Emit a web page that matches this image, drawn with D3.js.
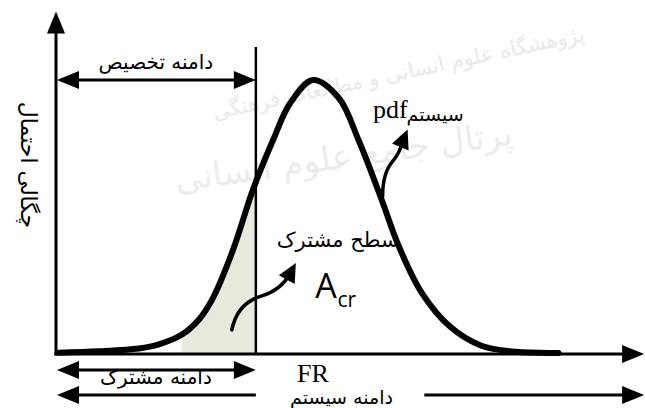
<!DOCTYPE html>
<html>
<head>
<meta charset="utf-8">
<script src="https://cdn.jsdelivr.net/npm/d3@7"></script>
<style>
body { margin: 0; background: #fff; }
</style>
</head>
<body>
<script>
// FR position (arbitrary units) and relative pdf
var frValues  = [0.05, 0.75, 1.45, 1.8, 2.2, 2.5, 2.75, 3.1, 3.45, 3.8, 4.1, 4.5, 4.95, 5.3, 5.7, 6.0, 6.4, 6.9, 7.45, 8.05, 8.8];
var pdfValues = [0.005, 0.01, 0.02, 0.035, 0.07, 0.125, 0.205, 0.38, 0.6, 0.78, 0.915, 1.0, 0.935, 0.78, 0.565, 0.395, 0.225, 0.1, 0.03, 0.008, 0.004];

var allocLimit = 3.5;   // end of the allocation range (vertical line)
var shadeStart = 2.2;   // where the shared area shading begins

var yLabel = "چگالی احتمال";
var allocLabel = "دامنه تخصیص";
var sharedRangeLabel = "دامنه مشترک";
var systemRangeLabel = "دامنه سیستم";
var sharedAreaLabel = "سطح مشترک";
var pdfLabel = "pdf";
var pdfSubLabel = "سیستم";
var xLabel = "FR";
var watermark = ["پژوهشگاه علوم انسانی و مطالعات فرهنگی", "پرتال جامع علوم انسانی"];

var width = 645, height = 408;
var persian = "'DejaVu Sans', sans-serif";

var data = frValues.map(function(d, i) { return {fr: d, p: pdfValues[i]}; });

var x = d3.scaleLinear().domain([0, 10]).range([56, 627]);
var y = d3.scaleLinear().domain([0, 1]).range([354, 80]);

var svg = d3.select("body").append("svg")
    .attr("width", width)
    .attr("height", height);

// faint watermark behind everything
svg.append("text")
    .attr("transform", "translate(400,80) rotate(-12)")
    .attr("text-anchor", "middle")
    .attr("font-family", persian)
    .attr("font-size", 21)
    .attr("fill", "#e9e9e9")
    .text(watermark[0]);
svg.append("text")
    .attr("transform", "translate(345,168) rotate(-8)")
    .attr("text-anchor", "middle")
    .attr("font-family", persian)
    .attr("font-size", 34)
    .attr("fill", "#ececec")
    .text(watermark[1]);

function head(tx, ty, dx, dy, len, half) {
    var n = Math.sqrt(dx * dx + dy * dy);
    dx /= n; dy /= n;
    var bx = tx - dx * len, by = ty - dy * len;
    svg.append("path")
        .attr("d", "M" + tx + "," + ty +
            "L" + (bx - dy * half) + "," + (by + dx * half) +
            "L" + (bx + dy * half) + "," + (by - dx * half) + "Z")
        .attr("fill", "#000");
}

// shaded shared area, clipped to the area under the curve
var area = d3.area()
    .x(function(d) { return x(d.fr); })
    .y0(y(0))
    .y1(function(d) { return y(d.p); })
    .curve(d3.curveCatmullRom);

svg.append("clipPath").attr("id", "under")
    .append("path").attr("d", area(data));

svg.append("rect")
    .attr("clip-path", "url(#under)")
    .attr("x", x(shadeStart))
    .attr("y", y(1.1))
    .attr("width", x(allocLimit) - x(shadeStart))
    .attr("height", y(0) - y(1.1))
    .attr("fill", "#e8e9dc");

// vertical limit of the allocation range
svg.append("line")
    .attr("x1", x(allocLimit)).attr("x2", x(allocLimit))
    .attr("y1", y(1.12)).attr("y2", y(0))
    .attr("stroke", "#000").attr("stroke-width", 2.5);

// axes
svg.append("line")
    .attr("x1", x(0)).attr("x2", x(0))
    .attr("y1", y(0) + 1.5).attr("y2", y(1.2))
    .attr("stroke", "#000").attr("stroke-width", 3);
head(x(0), y(1.25), 0, -1, 22, 9);

svg.append("line")
    .attr("x1", x(0) - 1.5).attr("x2", x(10))
    .attr("y1", y(0)).attr("y2", y(0))
    .attr("stroke", "#000").attr("stroke-width", 3);
head(x(10.3), y(0), 1, 0, 22, 9);

// pdf curve
var line = d3.line()
    .x(function(d) { return x(d.fr); })
    .y(function(d) { return y(d.p); })
    .curve(d3.curveCatmullRom);

svg.append("path")
    .attr("d", line(data))
    .attr("fill", "none")
    .attr("stroke", "#000")
    .attr("stroke-width", 6)
    .attr("stroke-linecap", "round");

// double arrows for ranges
function range(x1, x2, yy, leftHead, rightHead) {
    svg.append("line")
        .attr("x1", x1 + (leftHead ? 10 : 0)).attr("x2", x2 - (rightHead ? 10 : 0))
        .attr("y1", yy).attr("y2", yy)
        .attr("stroke", "#000").attr("stroke-width", 3);
    if (leftHead) head(x1, yy, -1, 0, 22, 9);
    if (rightHead) head(x2, yy, 1, 0, 22, 9);
}

range(x(0) + 1, x(allocLimit), y(1.0), true, true);
range(x(0) + 1, x(allocLimit), y(0) + 16, true, true);
range(x(0) + 1, x(allocLimit), y(0) + 41, true, false);
range(x(6.45), x(10.3), y(0) + 41, false, true);

// texts
function label(txt, tx, ty, size, family, anchor) {
    return svg.append("text")
        .attr("x", tx).attr("y", ty)
        .attr("text-anchor", anchor || "middle")
        .attr("font-family", family || persian)
        .attr("font-size", size)
        .attr("fill", "#000")
        .text(txt);
}

label(allocLabel, (x(0) + x(allocLimit)) / 2, y(1.0) - 11, 20);
label(sharedRangeLabel, (x(0) + x(allocLimit)) / 2, y(0) + 30, 20);
label(systemRangeLabel, x(5.0), y(0) + 50, 19);
label(xLabel, x(4.5), y(0) + 28, 26, "'Liberation Serif', serif");
label(sharedAreaLabel, x(6.0), y(0.4) + 3, 21, persian, "end");

label(pdfLabel, x(5.55), y(0.86), 26, "'Liberation Serif', serif", "start");
label(pdfSubLabel, x(6.14), y(0.85), 19, persian, "start");

label("A", x(4.54), y(0.205), 34, "'Open Sans', sans-serif", "start");
label("cr", x(4.93), y(0.172), 21, "'Open Sans', sans-serif", "start");

svg.append("text")
    .attr("transform", "translate(21," + y(0.69) + ") rotate(90)")
    .attr("text-anchor", "middle")
    .attr("font-family", persian)
    .attr("font-size", 22)
    .text(yLabel);

// curly annotation arrows
function curly(sx, sy, rel, tipDx, tipDy) {
    var p = svg.append("path")
        .attr("d", "M" + sx + "," + sy + rel)
        .attr("fill", "none")
        .attr("stroke", "#000")
        .attr("stroke-width", 3.5)
        .attr("stroke-linecap", "round");
    var node = p.node(), L = node.getTotalLength();
    var end = node.getPointAtLength(L);
    head(end.x + tipDx, end.y + tipDy, tipDx, tipDy, 19, 9);
}

curly(x(3.08), y(0.088), "c4,-20 16,-30 30,-34 c13,-4 22,-11 28,-22", 6, -11);
curly(x(5.72), y(0.575), "c0,-16 3,-27 10,-35 c6,-7 8,-12 10,-20", 5, -12);
</script>
</body>
</html>
